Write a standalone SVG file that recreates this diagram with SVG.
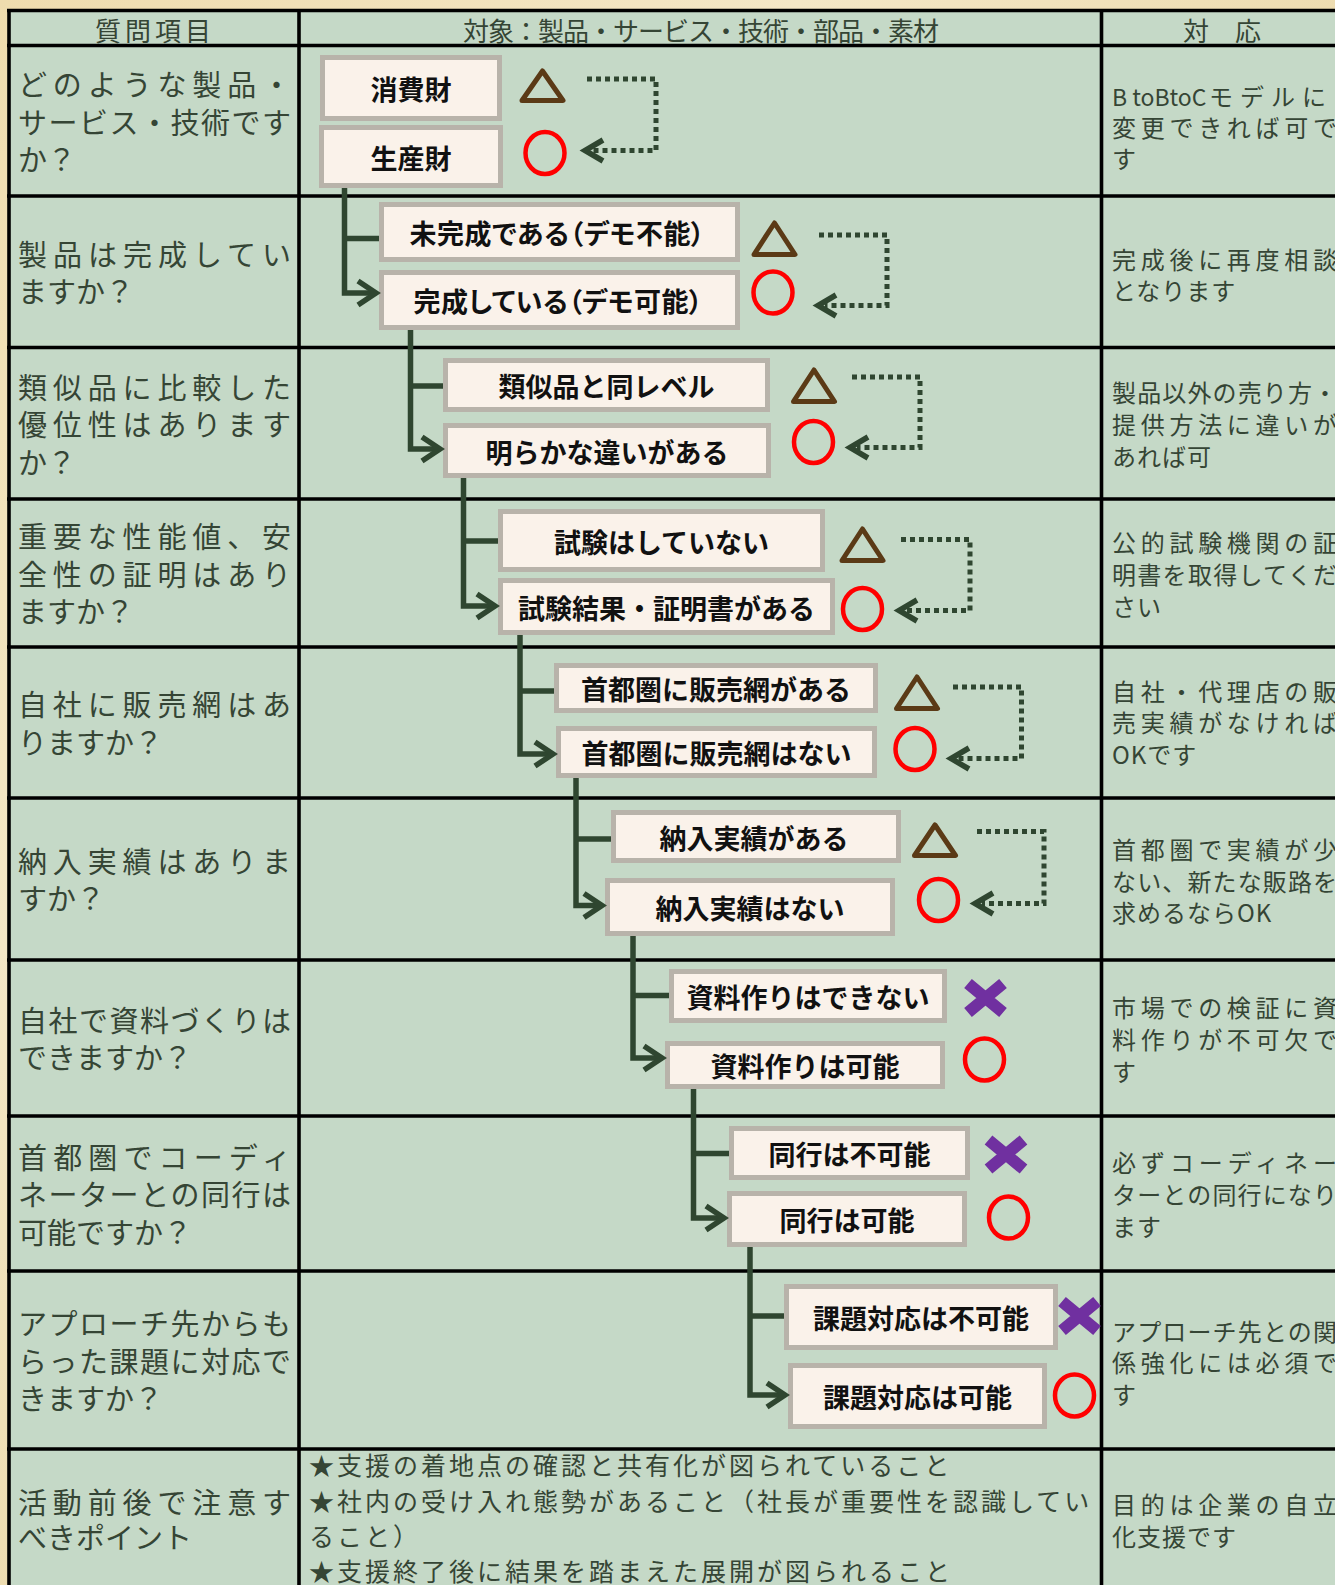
<svg xmlns="http://www.w3.org/2000/svg" width="1335" height="1585" viewBox="0 0 1335 1585">
<defs>
<linearGradient id="parch" x1="0" y1="0" x2="1" y2="1">
<stop offset="0" stop-color="#efdcae"/>
<stop offset="0.3" stop-color="#f4e7c6"/>
<stop offset="0.6" stop-color="#ead7a6"/>
<stop offset="1" stop-color="#f2e4c0"/>
</linearGradient>
</defs>
<style>
.jp{font-family:"Noto Sans CJK JP","Noto Sans CJK SC",sans-serif}
.q{font-size:29px;fill:#354535}
.a{font-size:24px;fill:#354535;letter-spacing:1px}
.h{font-size:26px;fill:#354535}
.m{font-size:25px;fill:#354535;letter-spacing:3px}
.grid{stroke:#000;stroke-width:3.6;fill:none}
.nb{fill:#faf2ea;stroke:#b8b3aa;stroke-width:5}
.nt{font-size:27px;font-weight:700;fill:#111;text-anchor:middle}
.pa{font-feature-settings:"palt"}
.conn{fill:none;stroke:#2f4630;stroke-width:5.5;stroke-linejoin:miter}
.dot{fill:none;stroke:#2f4630;stroke-width:5;stroke-dasharray:5 4}
.chev{fill:none;stroke:#2f4630;stroke-width:5.5;stroke-linejoin:miter}
.tri{fill:none;stroke:#5b3a16;stroke-width:5;stroke-linejoin:round}
.ok{fill:none;stroke:#ff0000;stroke-width:4.5}
.ng{stroke:#7030a0;stroke-width:12}
</style>
<rect x="0" y="0" width="1335" height="1585" fill="url(#parch)"/>
<g id="table">
<rect x="9" y="10.5" width="1340" height="1600" fill="#c5d9c7"/>
<path class="grid" d="M7 10.5H1345M7 45.5H1345M7 196H1345M7 347.5H1345M7 499H1345M7 647H1345M7 798H1345M7 960H1345M7 1116H1345M7 1271H1345M7 1449H1345M9 9V1600M299 9V1600M1101.5 9V1600"/>
<text class="jp h" x="95" y="40.5" letter-spacing="4">質問項目</text>
<text class="jp h" x="463" y="40.5" textLength="476" lengthAdjust="spacing">対象：製品・サービス・技術・部品・素材</text>
<text class="jp h" x="1183" y="40.5">対　応</text>
</g>
<g id="questions" class="jp q">
<text x="18" y="96" textLength="273" lengthAdjust="spacing">どのような製品・</text>
<text x="18" y="133.5" textLength="273" lengthAdjust="spacing">サービス・技術です</text>
<text x="18" y="171">か？</text>
<text x="18" y="266" textLength="273" lengthAdjust="spacing">製品は完成してい</text>
<text x="18" y="303">ますか？</text>
<text x="18" y="398.5" textLength="273" lengthAdjust="spacing">類似品に比較した</text>
<text x="18" y="436" textLength="273" lengthAdjust="spacing">優位性はあります</text>
<text x="18" y="473.5">か？</text>
<text x="18" y="548" textLength="273" lengthAdjust="spacing">重要な性能値、安</text>
<text x="18" y="585.5" textLength="273" lengthAdjust="spacing">全性の証明はあり</text>
<text x="18" y="623">ますか？</text>
<text x="18" y="716" textLength="273" lengthAdjust="spacing">自社に販売網はあ</text>
<text x="18" y="754">りますか？</text>
<text x="18" y="873" textLength="273" lengthAdjust="spacing">納入実績はありま</text>
<text x="18" y="910">すか？</text>
<text x="18" y="1032" textLength="273" lengthAdjust="spacing">自社で資料づくりは</text>
<text x="18" y="1069">できますか？</text>
<text x="18" y="1168.5" textLength="273" lengthAdjust="spacing">首都圏でコーディ</text>
<text x="18" y="1206" textLength="273" lengthAdjust="spacing">ネーターとの同行は</text>
<text x="18" y="1243.5">可能ですか？</text>
<text x="18" y="1335" textLength="273" lengthAdjust="spacing">アプローチ先からも</text>
<text x="18" y="1372.5" textLength="273" lengthAdjust="spacing">らった課題に対応で</text>
<text x="18" y="1410">きますか？</text>
<text x="18" y="1514" textLength="273" lengthAdjust="spacing">活動前後で注意す</text>
<text x="18" y="1549">べきポイント</text>
</g>
<g id="answers" class="jp a">
<text x="1112" y="106" letter-spacing="0"><tspan font-size="23">B toBtoC</tspan><tspan x="1209" letter-spacing="7">モデルに</tspan></text>
<text x="1112" y="137" textLength="226" lengthAdjust="spacing">変更できれば可で</text>
<text x="1112" y="168">す</text>
<text x="1112" y="269" textLength="226" lengthAdjust="spacing">完成後に再度相談</text>
<text x="1112" y="300">となります</text>
<text x="1112" y="402" textLength="226" lengthAdjust="spacing">製品以外の売り方・</text>
<text x="1112" y="434" textLength="226" lengthAdjust="spacing">提供方法に違いが</text>
<text x="1112" y="466">あれば可</text>
<text x="1112" y="552" textLength="226" lengthAdjust="spacing">公的試験機関の証</text>
<text x="1112" y="584" textLength="226" lengthAdjust="spacing">明書を取得してくだ</text>
<text x="1112" y="616">さい</text>
<text x="1112" y="701" textLength="226" lengthAdjust="spacing">自社・代理店の販</text>
<text x="1112" y="732" textLength="226" lengthAdjust="spacing">売実績がなければ</text>
<text x="1112" y="764">OKです</text>
<text x="1112" y="859" textLength="226" lengthAdjust="spacing">首都圏で実績が少</text>
<text x="1112" y="891" textLength="226" lengthAdjust="spacing">ない、新たな販路を</text>
<text x="1112" y="922">求めるならOK</text>
<text x="1112" y="1017" textLength="226" lengthAdjust="spacing">市場での検証に資</text>
<text x="1112" y="1049" textLength="226" lengthAdjust="spacing">料作りが不可欠で</text>
<text x="1112" y="1081">す</text>
<text x="1112" y="1172" textLength="226" lengthAdjust="spacing">必ずコーディネー</text>
<text x="1112" y="1204" textLength="226" lengthAdjust="spacing">ターとの同行になり</text>
<text x="1112" y="1236">ます</text>
<text x="1112" y="1341" textLength="226" lengthAdjust="spacing">アプローチ先との関</text>
<text x="1112" y="1372" textLength="226" lengthAdjust="spacing">係強化には必須で</text>
<text x="1112" y="1404">す</text>
<text x="1112" y="1514" textLength="226" lengthAdjust="spacing">目的は企業の自立</text>
<text x="1112" y="1546">化支援です</text>
</g>
<g id="notes" class="jp m">
<text x="309" y="1475">★支援の着地点の確認と共有化が図られていること</text>
<text x="309" y="1511">★社内の受け入れ態勢があること（社長が重要性を認識してい</text>
<text x="309" y="1546">ること）</text>
<text x="309" y="1581">★支援終了後に結果を踏まえた展開が図られること</text>
</g>
<g id="n1"><rect class="nb" x="322.5" y="57.5" width="177" height="61"/><text class="jp nt" x="411" y="100">消費財</text></g>
<g id="n2"><rect class="nb" x="321.5" y="127.5" width="179" height="58"/><text class="jp nt" x="411" y="168.5">生産財</text></g>
<g id="n3"><rect class="nb" x="381.5" y="204.5" width="356" height="55"/><text class="jp nt pa" x="557" y="244" textLength="295" lengthAdjust="spacing">未完成である（デモ不能）</text></g>
<g id="n4"><rect class="nb" x="381.5" y="272.5" width="356" height="55"/><text class="jp nt pa" x="558" y="312" textLength="289" lengthAdjust="spacing">完成している（デモ可能）</text></g>
<g id="n5"><rect class="nb" x="445.5" y="360.5" width="322" height="49"/><text class="jp nt" x="606.5" y="397">類似品と同レベル</text></g>
<g id="n6"><rect class="nb" x="445.5" y="425.5" width="323" height="50"/><text class="jp nt" x="607" y="462.5">明らかな違いがある</text></g>
<g id="n7"><rect class="nb" x="500.5" y="511.5" width="322" height="58"/><text class="jp nt" x="661.5" y="552.5">試験はしていない</text></g>
<g id="n8"><rect class="nb" x="500.5" y="580.5" width="332" height="52"/><text class="jp nt" x="666.5" y="618.5">試験結果・証明書がある</text></g>
<g id="n9"><rect class="nb" x="556.5" y="665.5" width="319" height="45"/><text class="jp nt" x="716" y="700">首都圏に販売網がある</text></g>
<g id="n10"><rect class="nb" x="558.5" y="728.5" width="316" height="47"/><text class="jp nt" x="716.5" y="764">首都圏に販売網はない</text></g>
<g id="n11"><rect class="nb" x="613.5" y="812.5" width="285" height="48"/><text class="jp nt" x="754" y="848.5">納入実績がある</text></g>
<g id="n12"><rect class="nb" x="607.5" y="880.5" width="285" height="53"/><text class="jp nt" x="750" y="919">納入実績はない</text></g>
<g id="n13"><rect class="nb" x="671.5" y="971.5" width="273" height="49"/><text class="jp nt" x="808" y="1008">資料作りはできない</text></g>
<g id="n14"><rect class="nb" x="667.5" y="1043.5" width="275" height="43"/><text class="jp nt" x="805" y="1077">資料作りは可能</text></g>
<g id="n15"><rect class="nb" x="731.5" y="1128.5" width="236" height="49"/><text class="jp nt" x="849.5" y="1165">同行は不可能</text></g>
<g id="n16"><rect class="nb" x="729.5" y="1193.5" width="235" height="51"/><text class="jp nt" x="847" y="1231">同行は可能</text></g>
<g id="n17"><rect class="nb" x="786.5" y="1286.5" width="269" height="61"/><text class="jp nt" x="921" y="1329">課題対応は不可能</text></g>
<g id="n18"><rect class="nb" x="790.5" y="1365.5" width="254" height="61"/><text class="jp nt" x="917.5" y="1408">課題対応は可能</text></g>
<g id="marks">
<path class="tri" d="M542.5 71L563 100.5H522Z"/>
<path class="tri" d="M774.5 223L795 254.5H754Z"/>
<path class="tri" d="M814 370L834.5 401.5H793.5Z"/>
<path class="tri" d="M862.5 529L883 560.5H842Z"/>
<path class="tri" d="M917 677L937.5 708.5H896.5Z"/>
<path class="tri" d="M935 825L955.5 855.5H914.5Z"/>
<ellipse class="ok" cx="545" cy="153" rx="19.5" ry="21"/>
<ellipse class="ok" cx="773" cy="292.5" rx="19.5" ry="21"/>
<ellipse class="ok" cx="813.5" cy="442" rx="19.5" ry="21"/>
<ellipse class="ok" cx="862.5" cy="609" rx="19.5" ry="21"/>
<ellipse class="ok" cx="915" cy="749" rx="19.5" ry="21"/>
<ellipse class="ok" cx="938.5" cy="900" rx="19.5" ry="21"/>
<ellipse class="ok" cx="984.5" cy="1059.5" rx="19.5" ry="21"/>
<ellipse class="ok" cx="1008.5" cy="1217.5" rx="19.5" ry="21"/>
<ellipse class="ok" cx="1074.5" cy="1395.5" rx="19.5" ry="21"/>
<path class="ng" d="M968 983.5L1003 1012.5M1003 983.5L968 1012.5"/>
<path class="ng" d="M988.5 1140L1023.5 1169M1023.5 1140L988.5 1169"/>
<path class="ng" d="M1062 1301.5L1097 1330.5M1097 1301.5L1062 1330.5"/>
</g>
<g id="connectors">
<path class="conn" d="M344.5 188V293H376M344.5 238.5H379"/>
<path class="chev" d="M358 281L376 293L358 305"/>
<path class="conn" d="M410.5 330V449H440M410.5 386H443"/>
<path class="chev" d="M422 437L440 449L422 461"/>
<path class="conn" d="M463.5 478V606H495M463.5 541H498"/>
<path class="chev" d="M477 594L495 606L477 618"/>
<path class="conn" d="M520 635V754H553M520 691H554"/>
<path class="chev" d="M535 742L553 754L535 766"/>
<path class="conn" d="M576 778V905.5H602M576 839H611"/>
<path class="chev" d="M584 893.5L602 905.5L584 917.5"/>
<path class="conn" d="M633 936V1058H662M633 995.5H669"/>
<path class="chev" d="M644 1046L662 1058L644 1070"/>
<path class="conn" d="M693.5 1089V1218H724M693.5 1153.5H729"/>
<path class="chev" d="M706 1206L724 1218L706 1230"/>
<path class="conn" d="M750 1247V1395H785M750 1316H784"/>
<path class="chev" d="M767 1383L785 1395L767 1407"/>
<path class="dot" d="M587 79H656V150.5H592"/>
<path class="chev" d="M603 140L585 150.5L603 161"/>
<path class="dot" d="M819 235H887V305.5H825"/>
<path class="chev" d="M836 295L818 305.5L836 316"/>
<path class="dot" d="M852 377H920V447.5H857"/>
<path class="chev" d="M868 437L850 447.5L868 458"/>
<path class="dot" d="M901 539.5H970V610.5H906"/>
<path class="chev" d="M917 600L899 610.5L917 621"/>
<path class="dot" d="M953 687H1021.5V758.5H958"/>
<path class="chev" d="M969 748L951 758.5L969 769"/>
<path class="dot" d="M977 831.5H1044V903.5H982"/>
<path class="chev" d="M993 893L975 903.5L993 914"/>
</g>
</svg>
